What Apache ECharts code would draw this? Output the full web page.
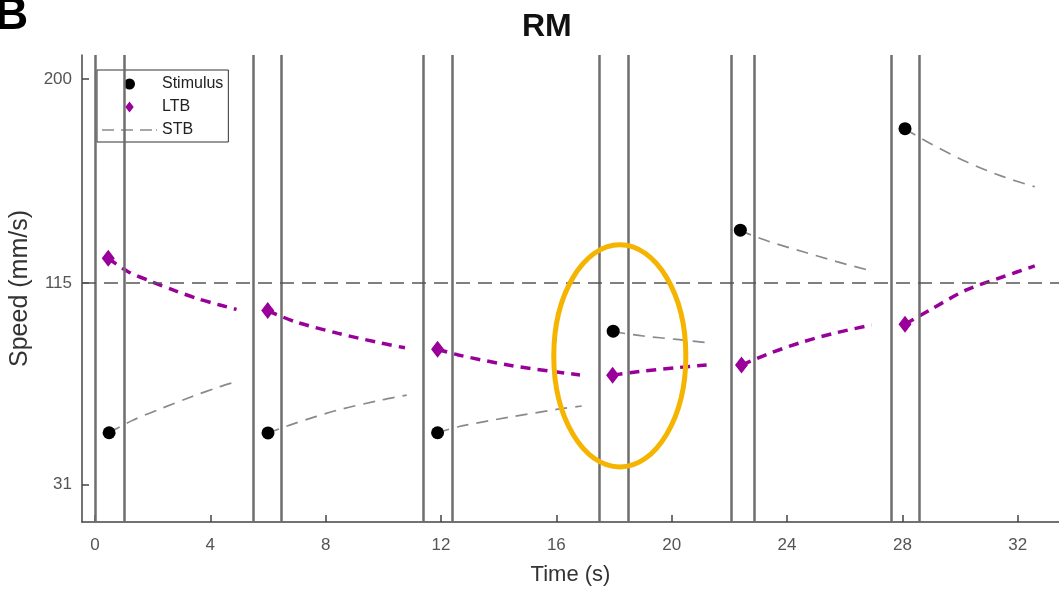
<!DOCTYPE html>
<html><head><meta charset="utf-8">
<script src="https://cdn.jsdelivr.net/npm/echarts@6/dist/echarts.min.js"></script>
<style>html,body{margin:0;padding:0;background:#fff}#c{width:1059px;height:590px}</style>
</head><body><div id="c"></div>
<script>
// ---- data ----
const xTicks = [0, 4, 8, 12, 16, 20, 24, 28, 32];
const yTicks = [31, 115, 200];
const boundaryTimes = [0, 1.0, 5.48, 6.47, 11.37, 12.39, 17.5, 18.48, 22.07, 22.87, 27.61, 28.6];
const referenceSpeed = 115;

const stimTimes = [0.49, 6.0, 11.88, 17.97, 22.38, 28.09];
const stimSpeed = [52.6, 52.5, 52.6, 94.9, 137.0, 179.3];

const ltbTimes = [0.46, 5.99, 11.88, 17.95, 22.42, 28.09];
const ltbSpeed = [125.3, 103.5, 87.4, 76.6, 80.8, 97.8];

const ltbCurves = [
  [[0.46,125.3],[1.15,119.7],[2.02,115.3],[2.77,111.8],[3.53,108.6],[4.33,105.8],[4.91,104.0]],
  [[5.99,103.5],[6.93,98.9],[8.44,94.0],[9.94,89.9],[10.75,88.0]],
  [[11.88,87.4],[12.6,85.0],[14.33,80.8],[15.95,78.0],[16.82,76.7]],
  [[17.95,76.6],[19.01,78.3],[20.17,79.7],[21.21,80.8]],
  [[22.42,80.8],[23.4,85.7],[24.56,90.5],[25.72,94.3],[26.93,97.5]],
  [[28.09,97.8],[28.95,103.75],[30.22,112.1],[31.49,117.6],[32.59,122.1]]
];
const stbCurves = [
  [[0.49,52.6],[1.33,57.9],[2.32,62.8],[3.35,67.6],[4.33,71.8],[4.91,73.9]],
  [[5.99,52.4],[6.93,56.5],[8.44,62.1],[9.94,66.25],[10.81,68.3]],
  [[11.88,52.6],[12.6,55.1],[14.33,59.0],[16.06,62.4],[16.88,63.75]],
  [[17.97,94.7],[19.01,92.9],[20.17,91.5],[21.27,90.1]],
  [[22.36,136.8],[23.4,132.2],[24.56,128.0],[25.72,123.9],[26.93,120.0]],
  [[28.09,179.2],[28.95,173.2],[30.22,165.5],[31.49,159.3],[32.59,155.1]]
];
const highlight = { time: 18.2, speed: 84.6, halfTime: 2.29, halfSpeed: 46.3 };

// ---- styles ----
const FONT = 'Liberation Sans, Arial, sans-serif';
const PURPLE = '#990099';
const STB_GRAY = '#8a8a8a';
const AXIS = '#444';

const series = [];
series.push({
  type: 'line', data: [], silent: true, z: 1,
  markLine: {
    silent: true, animation: false, symbol: ['none', 'none'], label: { show: false },
    data: boundaryTimes.map(t => ({ xAxis: t, lineStyle: { color: '#6e6e6e', width: 2.5, type: 'solid' } }))
      .concat([{ yAxis: referenceSpeed, lineStyle: { color: '#555', width: 1.5, type: [14, 8] } }])
  }
});
stbCurves.forEach(seg => series.push({
  name: 'STB', type: 'line', data: seg, symbol: 'none', smooth: 0.3, z: 2,
  lineStyle: { color: STB_GRAY, width: 1.7, type: [12, 8] }, itemStyle: { color: STB_GRAY }
}));
ltbCurves.forEach(seg => series.push({
  name: 'LTB', type: 'line', data: seg, symbol: 'none', smooth: 0.3, z: 3,
  lineStyle: { color: PURPLE, width: 3.5, type: [10, 7] }, itemStyle: { color: PURPLE }
}));
series.push({
  name: 'LTB', type: 'scatter', symbol: 'diamond', symbolSize: [13, 17], z: 4,
  data: ltbTimes.map((t, i) => [t, ltbSpeed[i]]), itemStyle: { color: PURPLE, opacity: 1 }
});
series.push({
  name: 'Stimulus', type: 'scatter', symbol: 'circle', symbolSize: 13, z: 5,
  data: stimTimes.map((t, i) => [t, stimSpeed[i]]), itemStyle: { color: '#000', opacity: 1 }
});

const chart = echarts.init(document.getElementById('c'), null, { renderer: 'canvas' });
chart.setOption({
  animation: false,
  backgroundColor: '#fff',
  textStyle: { fontFamily: FONT },
  title: { text: 'RM', left: 522, top: 11, padding: 0,
    textStyle: { fontFamily: FONT, fontSize: 32, fontWeight: 'bold', color: '#111' } },
  grid: { left: 82, right: 0, top: 55, bottom: 68, containLabel: false, outerBoundsMode: 'none' },
  legend: {
    left: 97, top: 70, orient: 'vertical', symbolKeepAspect: true,
    data: [
      { name: 'Stimulus', icon: 'circle', itemStyle: { color: '#000', opacity: 1 } },
      { name: 'LTB', icon: 'path://M5,0L10,6.5L5,13L0,6.5Z', itemStyle: { color: PURPLE, opacity: 1 } },
      { name: 'STB', icon: 'path://M0,0h12v1.6h-12z M19,0h12v1.6h-12z M38,0h12v1.6h-12z M54,0h1v1.6h-1z',
        itemStyle: { color: STB_GRAY, opacity: 1 } }
    ],
    itemWidth: 55, itemHeight: 11, itemGap: 7,
    padding: [6, 5, 4, 5],
    backgroundColor: '#fff', borderColor: '#333', borderWidth: 1, borderRadius: 0,
    textStyle: { fontFamily: FONT, fontSize: 16, color: '#222', lineHeight: 16 },
    selectedMode: false
  },
  xAxis: {
    type: 'value', min: -0.45, max: 33.43,
    axisLine: { show: true, onZero: false, lineStyle: { color: AXIS, width: 1.5 } },
    axisTick: { show: true, inside: true, length: 7, customValues: xTicks, lineStyle: { color: AXIS, width: 1.5 } },
    axisLabel: { customValues: xTicks, color: '#555', fontSize: 17, margin: 15, fontFamily: FONT },
    splitLine: { show: false },
    name: 'Time (s)', nameLocation: 'middle', nameGap: 42,
    nameTextStyle: { fontSize: 22, color: '#333', fontFamily: FONT }
  },
  yAxis: {
    type: 'value', min: 15.4, max: 210,
    axisLine: { show: true, onZero: false, lineStyle: { color: AXIS, width: 1.5 } },
    axisTick: { show: true, inside: true, length: 7, customValues: yTicks, lineStyle: { color: AXIS, width: 1.5 } },
    axisLabel: { customValues: yTicks, color: '#555', fontSize: 17, margin: 10, fontFamily: FONT },
    splitLine: { show: false },
    name: 'Speed (mm/s)', nameLocation: 'middle', nameGap: 38, nameRotate: 90,
    nameTextStyle: { fontSize: 25, color: '#333', fontFamily: FONT }
  },
  series: series
});

const c = chart.convertToPixel({ gridIndex: 0 }, [highlight.time, highlight.speed]);
const e = chart.convertToPixel({ gridIndex: 0 }, [highlight.time + highlight.halfTime, highlight.speed + highlight.halfSpeed]);
chart.setOption({
  graphic: [
    { id: 'panel', type: 'text', left: -5, top: -7, z: 100,
      style: { text: 'B', font: 'bold 46px ' + FONT, fill: '#000' } },
    { id: 'ring', type: 'ellipse', z: 100, silent: true,
      shape: { cx: c[0], cy: c[1], rx: e[0] - c[0], ry: c[1] - e[1] },
      style: { fill: 'none', stroke: '#F5B400', lineWidth: 5 } }
  ]
});
</script>
</body></html>
